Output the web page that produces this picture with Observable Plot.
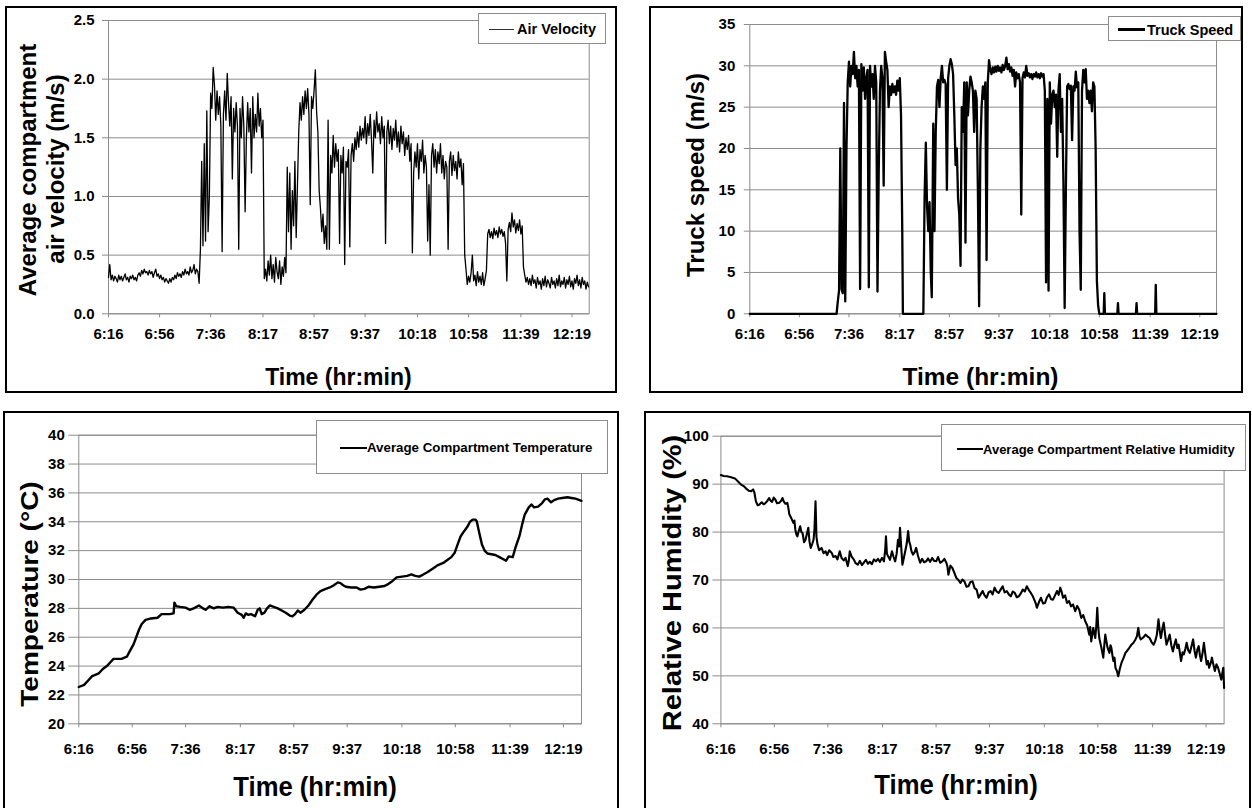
<!DOCTYPE html>
<html>
<head>
<meta charset="utf-8">
<script src="https://cdn.jsdelivr.net/npm/d3@7"></script>
<script src="https://cdn.jsdelivr.net/npm/@observablehq/plot@0.6"></script>
<style>
  html, body { margin: 0; padding: 0; background: #fff; }
  body { font-family: "Liberation Sans", Arial, sans-serif; }
  #page { position: relative; width: 1252px; height: 808px; overflow: hidden; background: #fff; }
  .chart { position: absolute; width: 626px; height: 404px; }
  .chart svg text { font-weight: 700; }
  .frame { position: absolute; border: 2.5px solid #000; box-sizing: border-box; }
  .title { position: absolute; font-weight: 700; white-space: nowrap; color: #000; line-height: 1; }
  .legend { position: absolute; background: #fff; border: 1px solid #8c8c8c; box-sizing: border-box; }
  .legend .sw { position: absolute; }
  .legend .lt { position: absolute; font-weight: 700; white-space: nowrap; line-height: 1; transform: translateY(-50%); color: #000; }
</style>
</head>
<body>
<div id="page"></div>
<script>
// ---------------- data ----------------
const timeLabels = ["6:16","6:56","7:36","8:17","8:57","9:37","10:18","10:58","11:39","12:19"];
const endMinute = 752.5; // last recorded sample ~12:32

// Average compartment air velocity (m/s), one reading per minute from 6:16
const velocityStart = 376, velocityStep = 1;
const airVelocity = [
  0.31,0.42,0.29,0.33,0.28,0.32,0.30,0.27,0.33,0.29, // 6:16
  0.32,0.28,0.31,0.34,0.29,0.31,0.27,0.32,0.30,0.33,
  0.29,0.31,0.28,0.33,0.35,0.32,0.37,0.34,0.38,0.35,
  0.36,0.33,0.37,0.34,0.36,0.31,0.35,0.38,0.32,0.34,
  0.30,0.33,0.29,0.31,0.27,0.30,0.28,0.26,0.30,0.27,
  0.31,0.29,0.33,0.30,0.35,0.32,0.34,0.31,0.36,0.33,
  0.38,0.34,0.36,0.33,0.40,0.35,0.37,0.42,0.34,0.38,
  0.36,0.26,0.55,1.30,0.58,1.45,0.62,1.73,0.70,1.00, // 7:26
  1.88,1.75,2.10,1.95,1.65,1.90,1.70,1.85,1.60,0.53,
  1.70,1.90,1.65,2.05,1.80,1.60,1.85,1.15,1.75,1.55,
  1.80,1.60,0.55,1.75,1.50,1.85,1.60,0.87,1.50,1.80,
  1.55,1.75,1.20,1.85,1.50,1.70,1.55,1.88,1.60,1.75,
  1.50,1.65,0.30,0.38,0.28,0.45,0.33,0.50,0.30,0.42, // 8:16
  0.27,0.48,0.36,0.30,0.45,0.25,0.40,0.32,0.48,0.35,
  1.25,0.70,1.20,0.55,1.05,0.75,1.30,0.65,1.10,1.55,
  1.80,1.65,1.85,1.70,1.90,1.75,1.92,1.70,0.93,1.85,
  1.75,1.90,2.08,1.72,1.55,1.05,0.90,0.70,0.85,0.60,
  0.75,0.55,1.65,0.55,1.35,1.20,1.52,1.25,1.45,1.30,
  1.40,0.60,1.35,1.20,1.42,0.42,1.30,1.25,1.40,0.57, // 9:16
  1.35,1.45,1.30,1.50,1.40,1.55,1.42,1.60,1.48,1.58,
  1.50,1.68,1.45,1.62,1.52,1.70,1.48,1.20,1.65,1.50,
  1.72,1.55,1.62,1.45,1.68,1.50,1.60,0.60,1.55,1.65,
  1.45,1.60,1.40,1.58,1.48,1.65,1.42,1.55,1.38,1.60,
  1.45,1.55,1.35,1.50,1.40,1.52,1.30,1.45,0.52,1.20,
  1.38,1.25,1.45,1.15,1.40,1.30,1.48,1.20,1.35,1.25, // 10:16
  0.62,1.10,0.50,1.35,1.45,1.25,1.40,1.20,1.38,1.28,
  1.45,1.20,1.35,1.15,1.30,1.25,0.55,1.30,1.38,1.18,
  1.35,1.22,1.30,1.15,1.38,1.25,1.32,1.10,1.28,0.50,
  0.38,0.25,0.32,0.27,0.35,0.50,0.28,0.33,0.24,0.36,
  0.27,0.32,0.25,0.35,0.24,0.30,0.37,0.68,0.72,0.65,
  0.70,0.64,0.73,0.67,0.71,0.65,0.74,0.68,0.72,0.66, // 11:16
  0.70,0.60,0.28,0.72,0.78,0.70,0.86,0.74,0.80,0.69,
  0.77,0.71,0.80,0.68,0.75,0.40,0.33,0.27,0.31,0.25,
  0.30,0.24,0.33,0.26,0.29,0.22,0.31,0.25,0.28,0.21,
  0.30,0.24,0.32,0.23,0.29,0.26,0.22,0.31,0.25,0.28,
  0.22,0.30,0.24,0.33,0.23,0.28,0.25,0.31,0.22,0.29,
  0.25,0.32,0.23,0.28,0.21,0.30,0.26,0.33,0.24,0.29, // 12:16
  0.22,0.31,0.25,0.28,0.21,0.27,0.23
];

// Truck speed (m/s): [minute of day, speed]
const truckSpeed = [
  [376,0],[446,0],[447,1.5],[448,2.8],[449,20],[450,3],[451,2.5],[452,25.5],[453,1.5],[454,20],
  [455,28],[456,30.5],[457,27.5],[458,30],[459,29],[460,31.7],[461,28.5],[462,30],[463,27.5],[464,29.5],
  [465,3],[466,30.2],[467,27],[468,29.8],[469,26],[470,28.5],[471,29.5],[472,3.2],[473,30],[474,27.5],
  [475,29],[476,26],[477,30],[478,28],[479,2.7],[480,17],[481,27],[482,30],[483,28.5],[484,15.5],
  [485,31.7],[486,30.5],[487,29.5],[488,25],[489,27.5],[490,26.5],[491,27.8],[492,26.8],[493,27.5],[494,26.5],
  [495,28.2],[496,27],[497,28.5],[498,24],[499,10],[499.5,0],
  [516,0],[517,14],[518,20.7],[519,13],[520,10],[521,13.5],[522,5],[522.8,2],[523.5,14],[524,23],
  [525,10],[526,22],[527,27.5],[528,28.3],[529,25],[530,28.5],[531,30],[532,28],[533,28.3],[534,27.8],
  [535,15],[536,28.5],[537,30],[538,30.8],[539,30.2],[540,29],[541,24],[542,18],[543,20],[544,14],
  [545,12],[546,5.8],[547,25],[548,22],[549,28],[550,8.6],[551,28],[552,24],[553,27],[554,28.7],
  [555,28],[556,27],[557,22],[558,27],[559,26],[560,15],[561,0.9],[562,20],[563,25],[564,27.5],
  [565,26],[566,28],[567,6.5],[568,28],[569,30.7],[570,29.5],[571,29],[572,29.8],[573,29.2],[574,29.9],
  [575,29.3],[576,30],[577,29.4],[578,29.8],[579,29.2],[580,30.1],[581,29.5],[582,30],[583,31],[584,29.6],
  [585,30.2],[586,29.3],[587,29.8],[588,28.8],[589,29.5],[590,27.5],[591,29.2],[592,28.5],[593,29],[594,28],
  [595,12],[596,28.5],[597,29.2],[598,28.6],[599,30],[600,28.8],[601,29.1],[602,28.6],[603,29],[604,28.4],
  [605,29],[606,28.7],[607,29.2],[608,28.6],[609,29],[610,28.5],[611,29.1],[612,28.7],[613,29],[614,27],
  [615,3.8],[616,26],[617,2.8],[618,28],[619,23],[620,26.5],[621,27],[622,25],[623,26.5],[624,19],
  [625,27],[626,29],[627,22],[628,26],[629,16],[630,0.7],[631,15],[632,27.5],[633,27.8],[634,27.2],
  [635,27.6],[636,21],[637,27.5],[638,27],[639,29.3],[640,27.4],[641,28],[642,10],[643,2.9],[644,27],
  [645,29.5],[646,28],[647,29.6],[648,26],[649,27],[650,25.5],[651,27],[652,24.5],[653,28],[654,27.5],
  [655,20],[656,4],[657,1],[658,0],[661.5,0],[662,2.5],[662.5,0],[672.5,0],[673,1.3],[673.5,0],
  [687.5,0],[688,1.3],[688.5,0],[703,0],[703.5,3.5],[704,0],[752.5,0]
];

// Average compartment temperature (°C): [minute of day, temperature]
const temperature = [
  [376,22.55],[380,22.7],[383,23.0],[386,23.3],[391,23.5],[394,23.8],[397,24.0],[400,24.3],[402,24.5],[408,24.5],
  [412,24.65],[414,25.0],[417,25.5],[419,26.0],[421,26.5],[423,26.9],[426,27.2],[430,27.3],[435,27.35],[438,27.6],
  [444,27.6],[447,27.65],[447.6,28.4],[449,28.15],[452,28.1],[456,28.05],[459,27.9],[462,28.0],[466,28.2],[469,28.0],
  [471,27.9],[474,28.15],[477,28.0],[480,28.1],[484,28.05],[488,28.1],[492,28.05],[495,27.7],[498,27.55],[499.5,27.35],
  [501,27.65],[503,27.55],[505,27.6],[508,27.45],[510,27.9],[511.5,28.0],[513,27.6],[515,27.7],[517,28.0],[519,28.2],
  [522,28.1],[525,28.0],[528,27.85],[531,27.7],[534,27.5],[536,27.45],[538,27.6],[540,27.85],[542,27.7],[545,27.9],
  [548,28.2],[551,28.6],[554,28.95],[557,29.2],[561,29.35],[564,29.45],[567,29.6],[570,29.8],[572,29.75],[574,29.6],
  [576,29.5],[580,29.45],[584,29.45],[587,29.3],[590,29.35],[593,29.5],[597,29.45],[601,29.5],[605,29.55],[608,29.7],
  [611,29.9],[614,30.15],[618,30.2],[622,30.25],[625,30.35],[628,30.25],[631,30.2],[634,30.35],[637,30.5],[641,30.75],
  [645,31.0],[649,31.15],[652,31.35],[655,31.55],[657.5,31.85],[660,32.5],[662,33.0],[665,33.4],[667,33.65],[669,34.0],
  [671,34.15],[673,34.15],[674,34.05],[676,33.2],[678,32.4],[680,32.0],[682,31.8],[685,31.75],[688,31.7],[691,31.55],
  [694,31.4],[696,31.3],[698,31.6],[701,31.55],[703,32.2],[706,33.0],[708,33.8],[710,34.5],[713,35.0],[715,35.2],
  [717,35.0],[720,35.05],[723,35.3],[725,35.55],[727,35.6],[729.7,35.35],[732,35.5],[735,35.6],[738,35.65],[742,35.7],
  [745,35.65],[748,35.6],[752.5,35.45]
];

// Average compartment relative humidity (%): [minute of day, RH]
const humidity = [
  [376,91.9],[378,91.7],[380.5,91.65],[383,91.5],[386.5,91.2],[389,90.5],[391.1,89.9],[393,89.6],[395.6,88.9],[397,88.6],
  [398.6,88.5],[400.1,88.9],[401,88.3],[402.2,86.4],[403.5,85.6],[404.6,85.7],[406.5,86.2],[408,85.8],[409.1,86.0],[410.5,86.4],
  [412.1,87.1],[413,86.6],[414.3,86.3],[415.5,87.2],[416.7,86.8],[418,86.0],[419.7,86.1],[421,86.5],[422.1,87.1],[423,86.4],
  [424.2,85.9],[425.7,86.1],[426.5,85.0],[427.2,83.7],[428.5,83.0],[430.2,81.9],[431,82.4],[431.7,80.5],[432.5,79.5],[433.2,79.1],
  [434.3,80.3],[435.3,81.2],[436.2,80.0],[437.1,79.8],[438.2,77.9],[439.3,78.4],[440.3,79.6],[441.4,80.9],[442.3,78.0],[443.2,76.7],
  [444.3,77.5],[445.3,78.4],[446,80.5],[446.8,86.4],[447.5,79.0],[448.3,77.4],[449.5,76.2],[451.3,76.7],[452.8,75.6],[454.3,76.0],
  [455.5,75.2],[457,76.2],[458.8,75.7],[460.2,74.8],[461.8,75.0],[463.2,74.3],[464.9,76.0],[466.3,74.6],[467.9,74.1],[469.3,74.6],
  [470.9,72.9],[471.7,74.0],[472.4,76.0],[473.8,74.9],[475.4,74.3],[476.8,73.5],[478.4,73.2],[480,74.0],[481.5,73.1],[482.9,73.6],
  [484.5,74.2],[486,73.4],[487.4,73.8],[489,73.3],[490.5,74.3],[492.0,73.9],[493.5,74.4],[495,73.8],[496.5,74.6],[498,73.9],
  [499,76.5],[499.5,79.1],[500.2,75.5],[501.0,75.0],[502.5,74.2],[504.0,76.0],[505.2,74.8],[506.4,73.9],[507.5,75.5],[508.5,78.4],
  [509.3,77.0],[510.0,80.9],[511,76.5],[511.8,73.2],[512.8,74.5],[513.9,76.0],[515,77.5],[516.1,80.2],[516.9,78.0],[517.6,77.4],
  [518.6,76.0],[519.7,75.3],[521,75.8],[522.1,76.7],[523.5,75.0],[525.1,73.6],[526.5,74.4],[528,73.7],[529.6,73.9],[531,74.5],
  [532.5,73.8],[534.1,74.6],[535.5,74.0],[537.1,73.9],[538.5,74.8],[540,73.6],[541.7,73.9],[543.2,74.4],[544.7,73.6],[545.5,72.8],
  [546.2,71.1],[547.7,73.0],[549.2,72.5],[550.7,71.5],[552.2,70.4],[553.7,70.0],[555.2,69.4],[556.7,70.1],[558.2,69.7],[559.7,68.6],
  [561.2,68.7],[562.7,69.6],[564.3,69.7],[565.8,68.3],[567.3,68.0],[568.8,66.3],[570.3,67.0],[571.8,67.7],[573.3,66.8],[574.8,66.3],
  [576.3,67.4],[577.8,67.7],[579.3,67.0],[580.8,68.4],[582.3,67.6],[583.8,67.3],[585.3,68.0],[586.8,68.7],[588.3,67.4],[589.9,67.7],
  [591.4,67.0],[592.9,66.6],[594.4,67.6],[595.9,67.3],[597.4,66.4],[598.9,66.6],[600.4,67.2],[601.9,68.0],[603.4,67.6],[604.9,68.7],
  [606.4,67.9],[607.9,67.3],[609.4,66.6],[610.9,65.6],[611.7,65.0],[612.4,64.2],[614,65.4],[615.5,66.3],[617,65.1],[618.5,65.2],
  [620,66.4],[621.5,67.0],[623,66.0],[624.5,65.9],[626,66.8],[627.5,67.7],[628.7,66.9],[629.9,68.4],[631,67.5],[632.0,66.3],
  [633.5,66.8],[635.0,65.2],[636.5,65.6],[638.0,64.5],[639.5,64.9],[641.1,63.5],[642.6,64.6],[644.1,63.8],[645.6,62.1],[647.1,62.7],
  [648.6,61.4],[650.1,60.5],[651.6,58.6],[652.3,60.2],[653.1,57.2],[653.8,58.5],[654.6,60.0],[655.3,59.0],[656.1,57.9],[656.9,60.5],
  [657.6,64.2],[658.3,60.2],[659.1,57.9],[660.6,56.0],[662.1,53.8],[662.9,56.5],[663.6,58.6],[665.2,56.0],[666.7,54.8],[667.5,56.4],
  [668.2,55.8],[669,54.2],[669.7,53.1],[670.5,53.8],[671.2,51.7],[672.3,51.0],[673.3,49.9],[674.5,51.5],[675.7,52.7],[677.2,53.7],
  [678.7,54.8],[681,55.6],[683.2,56.5],[684.7,56.9],[686.2,57.6],[687.3,58.3],[688.3,60.0],[689.2,58.2],[690.1,57.6],[692,58.0],
  [693.8,58.6],[695.3,58.2],[696.8,57.9],[698.3,57.0],[699.8,56.5],[701,57.3],[702.2,58.6],[703.4,61.8],[704.3,59.5],[705.2,57.9],
  [706.3,59.8],[707.3,61.1],[708.4,58.5],[709.4,56.5],[710.6,57.5],[711.8,58.6],[713,56.4],[714.2,55.1],[715.3,56.5],[716.4,57.6],
  [717.5,55.8],[718.5,56.5],[719.4,54.8],[720.3,53.1],[721.4,54.9],[722.4,54.5],[723.5,55.6],[724.5,56.9],[725.7,55.3],[726.9,54.8],
  [728.1,56.2],[729.3,57.6],[730.4,55.2],[731.4,53.8],[732.5,55.5],[733.5,56.2],[734.4,54.3],[735.3,53.1],[736.4,54.8],[737.4,56.9],
  [738.5,54.4],[739.5,52.4],[740.4,53.1],[741.3,51.7],[742.4,52.6],[743.4,53.8],[744.5,52.3],[745.6,51.0],[746.8,52.4],[748.0,51.7],
  [749.2,50.5],[750.4,49.2],[751.2,50.6],[751.9,51.7],[752.5,47.5]
];

const velocityTicks = [0, 0.5, 1.0, 1.5, 2.0, 2.5];
const speedTicks = [0, 5, 10, 15, 20, 25, 30, 35];
const temperatureTicks = [20, 22, 24, 26, 28, 30, 32, 34, 36, 38, 40];
const humidityTicks = [40, 50, 60, 70, 80, 90, 100];

// ---------------- helpers ----------------
const toMinutes = s => { const [h, m] = s.split(":").map(Number); return h * 60 + m; };
const tickMinutes = timeLabels.map(toMinutes);
const labelOf = new Map(tickMinutes.map((m, i) => [m, timeLabels[i]]));
const velocitySeries = airVelocity.map((v, i) => ({t: velocityStart + i * velocityStep, v}));
const pairs = arr => arr.map(([t, v]) => ({t, v}));

const page = document.getElementById("page");
const GRID = "#8c8c8c";

function panel(cfg) {
  const chart = Plot.plot({
    width: 626, height: 404,
    marginLeft: cfg.m[0], marginRight: cfg.m[1], marginTop: cfg.m[2], marginBottom: cfg.m[3],
    style: {background: "transparent", color: "#000", fontSize: "15px", fontFamily: "'Liberation Sans', Arial, sans-serif"},
    x: {domain: [tickMinutes[0], endMinute], label: null},
    y: {domain: [cfg.ticks[0], cfg.ticks[cfg.ticks.length - 1]], label: null},
    marks: [
      Plot.gridY(cfg.ticks, {stroke: GRID, strokeOpacity: 1, strokeWidth: 1}),
      Plot.frame({stroke: GRID, strokeWidth: 1}),
      Plot.axisY(cfg.ticks, {tickSize: cfg.yts, tickPadding: cfg.ytp, tickFormat: cfg.fmt, stroke: GRID, label: null}),
      Plot.axisX(tickMinutes, {tickSize: 4, tickPadding: cfg.xtp, tickFormat: d => labelOf.get(d), stroke: GRID, label: null}),
      Plot.lineY(cfg.data, {x: "t", y: "v", stroke: "#000", strokeWidth: cfg.sw, curve: "linear"})
    ]
  });
  const div = document.createElement("div");
  div.className = "chart";
  div.style.left = cfg.left + "px";
  div.style.top = cfg.top + "px";
  div.appendChild(chart);
  page.appendChild(div);
}

function frame(l, t, w, h) {
  const d = document.createElement("div");
  d.className = "frame";
  Object.assign(d.style, {left: l + "px", top: t + "px", width: w + "px", height: h + "px"});
  page.appendChild(d);
}

function title(text, cx, cy, size, rotate, squeeze) {
  const d = document.createElement("div");
  d.className = "title";
  d.textContent = text;
  d.style.left = cx + "px";
  d.style.top = cy + "px";
  d.style.fontSize = size + "px";
  let tf = "translate(-50%,-50%)";
  if (rotate) tf += " rotate(-90deg)" + (squeeze ? ` scaleY(${squeeze})` : "");
  else if (squeeze) tf += ` scaleX(${squeeze})`;
  d.style.transform = tf;
  page.appendChild(d);
}

function legend(text, box, sw, textLeft, size, lineW, lineColor) {
  const d = document.createElement("div");
  d.className = "legend";
  Object.assign(d.style, {left: box[0] + "px", top: box[1] + "px", width: box[2] + "px", height: box[3] + "px"});
  const cy = box[3] / 2;
  const s = document.createElement("div");
  s.className = "sw";
  Object.assign(s.style, {left: sw[0] + "px", width: sw[1] + "px", top: (cy - lineW / 2) + "px", height: lineW + "px", background: lineColor});
  const tx = document.createElement("div");
  tx.className = "lt";
  tx.textContent = text;
  Object.assign(tx.style, {left: textLeft + "px", top: cy + "px", fontSize: size + "px"});
  d.appendChild(s); d.appendChild(tx);
  page.appendChild(d);
}

// ---------------- panels ----------------
panel({left: 0, top: 0, m: [108, 37.3, 20, 90.7], ticks: velocityTicks, fmt: d3.format(".1f"),
       yts: 6, ytp: 8, xtp: 11, sw: 1.3, data: velocitySeries});
panel({left: 626, top: 0, m: [123.3, 36, 24, 90.7], ticks: speedTicks, fmt: d3.format("d"),
       yts: 5.5, ytp: 9, xtp: 11, sw: 2.3, data: pairs(truckSpeed)});
panel({left: 0, top: 404, m: [78.3, 45, 30.7, 84.7], ticks: temperatureTicks, fmt: d3.format("d"),
       yts: 10, ytp: 4, xtp: 16, sw: 2.4, data: pairs(temperature)});
panel({left: 626, top: 404, m: [94.4, 28.4, 31.7, 84.7], ticks: humidityTicks, fmt: d3.format("d"),
       yts: 8, ytp: 4, xtp: 16, sw: 2.1, data: pairs(humidity)});

// frames
frame(4.5, 5.5, 612, 387.5);
frame(648.5, 5.5, 594, 387.5);
frame(2.5, 410.5, 616, 420);
frame(643.5, 410.5, 607.5, 420);

// legends
legend("Air Velocity", [478, 13, 128, 30.5], [10, 25], 38, 14.5, 1.2, "#333");
legend("Truck Speed", [1108, 16, 133, 25], [9, 27], 38, 14.5, 2.5, "#000");
legend("Average Compartment Temperature", [316, 420, 292, 54], [23, 27], 50, 13.3, 2, "#000");
legend("Average Compartment Relative Humidity", [940.5, 424, 305.5, 47], [15, 26], 41.5, 13, 2, "#000");

// axis titles
title("Time (hr:min)", 338.4, 377, 23);
title("Time (hr:min)", 980.5, 377, 24.5);
title("Time (hr:min)", 315, 785.5, 28.5, false, 0.9);
title("Time (hr:min)", 956, 784, 28.5, false, 0.9);
title("Average compartment", 28, 170, 24, true);
title("air velocity (m/s)", 56, 168.5, 24, true);
title("Truck speed (m/s)", 696, 174.5, 24, true);
title("Temperature (\u00B0C)", 30, 594, 28, true, 0.88);
title("Relative Humidity (%)", 673.4, 583, 29, true, 0.88);
</script>
</body>
</html>
